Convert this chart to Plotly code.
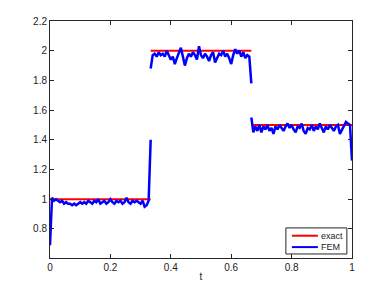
import numpy as np
import plotly.graph_objects as go

# FEM solution, one piece per subinterval (51 nodes each)
fem_1 = [
    0.69, 1.01, 0.99, 1.00, 0.99, 0.98, 0.99, 0.97, 0.98, 0.97,
    0.97, 0.96, 0.97, 0.96, 0.97, 0.98, 0.97, 0.98, 0.97, 0.99,
    0.98, 0.97, 0.99, 0.98, 1.00, 0.97, 0.98, 0.99, 0.97, 0.98,
    1.00, 0.98, 0.97, 0.99, 0.98, 0.99, 0.97, 0.98, 1.01, 0.98,
    0.97, 0.99, 0.98, 0.99, 0.98, 0.97, 0.99, 0.95, 0.96, 0.99,
    1.40,
]
fem_2 = [
    1.88, 1.97, 1.98, 1.96, 1.99, 1.97, 1.98, 1.96, 2.00, 1.97,
    1.94, 1.96, 1.91, 1.95, 1.99, 2.02, 1.96, 1.90, 1.95, 1.98,
    1.96, 1.99, 1.97, 1.94, 2.03, 1.97, 1.95, 1.98, 1.96, 1.93,
    1.97, 1.99, 1.92, 1.95, 1.98, 1.97, 2.00, 1.96, 1.98, 1.95,
    1.91, 1.97, 2.01, 1.98, 2.00, 1.96, 1.99, 1.95, 1.97, 1.96,
    1.78,
]
fem_3 = [
    1.55, 1.45, 1.49, 1.46, 1.50, 1.45, 1.49, 1.47, 1.50, 1.46,
    1.48, 1.44, 1.49, 1.47, 1.50, 1.48, 1.46, 1.49, 1.51, 1.48,
    1.50, 1.47, 1.45, 1.49, 1.48, 1.51, 1.46, 1.44, 1.48, 1.47,
    1.50, 1.46, 1.49, 1.47, 1.51, 1.48, 1.45, 1.49, 1.47, 1.50,
    1.48, 1.46, 1.49, 1.50, 1.44, 1.47, 1.49, 1.52, 1.51, 1.50,
    1.26,
]
pieces = [fem_1, fem_2, fem_3]
breaks = [0, 1 / 3, 2 / 3, 1]

# exact piecewise constant solution
exact_levels = [1.0, 2.0, 1.5]

fem_x, fem_y, ex_x, ex_y = [], [], [], []
for k, vals in enumerate(pieces):
    tt = np.linspace(breaks[k], breaks[k + 1], len(vals))
    fem_x += list(tt) + [None]
    fem_y += list(vals) + [None]
    ex_x += [tt[0], tt[-1], None]
    ex_y += [exact_levels[k], exact_levels[k], None]

fig = go.Figure()
fig.add_trace(go.Scatter(x=ex_x, y=ex_y, mode="lines", name="exact",
                         line=dict(color="#ff0000", width=2)))
fig.add_trace(go.Scatter(x=fem_x, y=fem_y, mode="lines", name="FEM",
                         line=dict(color="#0000ff", width=2.5)))

axis_style = dict(showline=True, linecolor="#262626", linewidth=1, mirror="ticks",
                  ticks="inside", ticklen=4, tickcolor="#262626", showgrid=False,
                  zeroline=False, automargin=False,
                  tickfont=dict(size=10, color="#222222"))

# legend drawn by hand (MATLAB style compact box)
legend_items = [("exact", "#ff0000", 0.094), ("FEM", "#0000ff", 0.046)]
shapes = [dict(type="rect", xref="paper", yref="paper", x0=0.781, x1=0.983,
               y0=0.017, y1=0.127, line=dict(color="#262626", width=1),
               fillcolor="white", layer="above")]
annotations = []
for name, col, yy in legend_items:
    shapes.append(dict(type="line", xref="paper", yref="paper", x0=0.801, x1=0.887,
                       y0=yy, y1=yy, line=dict(color=col, width=2), layer="above"))
    annotations.append(dict(text=name, xref="paper", yref="paper", x=0.893, y=yy,
                            xanchor="left", yanchor="middle", showarrow=False,
                            borderpad=0, font=dict(size=9, color="#222222")))

fig.update_layout(
    width=380, height=283,
    margin=dict(l=42, r=36, t=13, b=33),
    paper_bgcolor="white", plot_bgcolor="white",
    font=dict(family="Liberation Sans, Arial, sans-serif", size=10, color="#222222"),
    xaxis=dict(range=[0, 1], tickvals=[0, 0.2, 0.4, 0.6, 0.8, 1],
               ticktext=["0", "0.2", "0.4", "0.6", "0.8", "1"],
               title=dict(text="t", standoff=0, font=dict(size=10)), **axis_style),
    yaxis=dict(range=[0.604, 2.2], tickvals=[0.8, 1, 1.2, 1.4, 1.6, 1.8, 2, 2.2],
               ticktext=["0.8", "1", "1.2", "1.4", "1.6", "1.8", "2", "2.2"],
               **axis_style),
    shapes=shapes,
    annotations=annotations,
    showlegend=False,
)

fig.write_html("out.html")
